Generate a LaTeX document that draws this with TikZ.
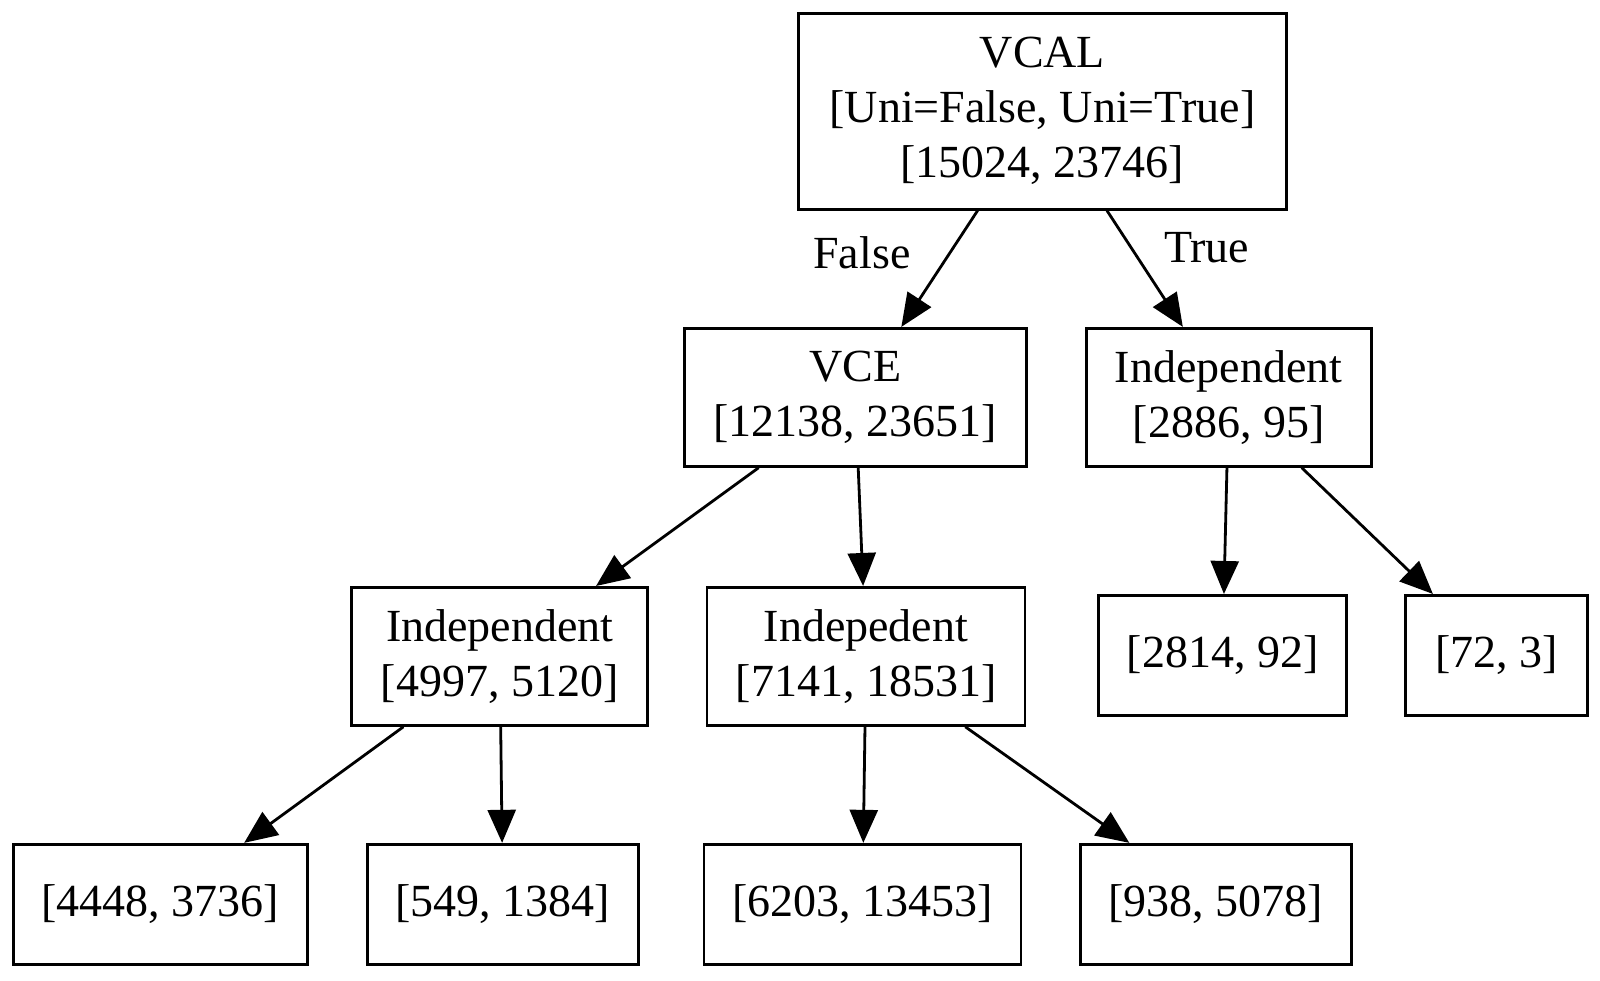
\documentclass[tikz,border=0pt]{standalone}
\usepackage{fontspec}
\setmainfont{Liberation Serif}
\usetikzlibrary{arrows.meta}
\begin{document}
\begin{tikzpicture}[x=1.02pt,y=-1.02pt,
  box/.style={draw,line width=2.8pt,inner sep=0pt,align=center,font=\fontsize{46}{55}\selectfont},
  lbl/.style={inner sep=0pt,font=\fontsize{46}{55}\selectfont},
  edge/.style={line width=2.8pt,-{Triangle[length=33pt,width=28pt]}}]
\useasboundingbox (0,0) rectangle (1568.6,960.8);
\node[box,minimum width=488pt,minimum height=196pt] (vcal) at (1022,109) {VCAL\\{[}Uni=False, Uni=True{]}\\{[}15024, 23746{]}};
\node[box,minimum width=342pt,minimum height=138pt] (vce) at (838.5,389.5) {VCE\\{[}12138, 23651{]}};
\node[box,minimum width=285pt,minimum height=138pt] (indr) at (1204.5,389.5) {Independent\\{[}2886, 95{]}};
\node[box,minimum width=296pt,minimum height=138pt] (indl) at (490,643.5) {Independent\\{[}4997, 5120{]}};
\node[box,minimum width=318pt,minimum height=138pt] (indm) at (849,643.5) {Indepedent\\{[}7141, 18531{]}};
\node[box,minimum width=248pt,minimum height=120pt] (l1) at (1198.5,642.5) {{[}2814, 92{]}};
\node[box,minimum width=182pt,minimum height=120pt] (l2) at (1467,642.5) {{[}72, 3{]}};
\node[box,minimum width=294pt,minimum height=120pt] (l3) at (157,886.5) {{[}4448, 3736{]}};
\node[box,minimum width=271pt,minimum height=120pt] (l4) at (493,886.5) {{[}549, 1384{]}};
\node[box,minimum width=317pt,minimum height=120pt] (l5) at (845.5,886.5) {{[}6203, 13453{]}};
\node[box,minimum width=271pt,minimum height=120pt] (l6) at (1192,886.5) {{[}938, 5078{]}};
\draw[edge] (vcal) -- (vce);
\draw[edge] (vcal) -- (indr);
\node[lbl] (lf) at (845,248) {False};
\node[lbl] (lt) at (1183,243) {True};
\draw[edge] (vce) -- (indl);
\draw[edge] (vce) -- (indm);
\draw[edge] (indr) -- (l1);
\draw[edge] (indr) -- (l2);
\draw[edge] (indl) -- (l3);
\draw[edge] (indl) -- (l4);
\draw[edge] (indm) -- (l5);
\draw[edge] (indm) -- (l6);
\end{tikzpicture}
\end{document}
